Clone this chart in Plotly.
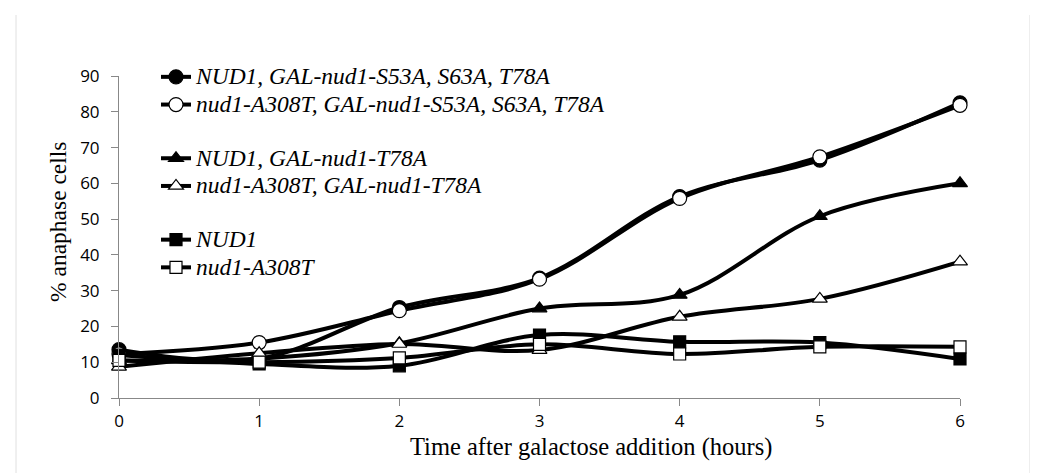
import plotly.graph_objects as go

hours = [0, 1, 2, 3, 4, 5, 6]

names = [
    "NUD1, GAL-nud1-S53A, S63A, T78A",
    "nud1-A308T, GAL-nud1-S53A, S63A, T78A",
    "NUD1, GAL-nud1-T78A",
    "nud1-A308T, GAL-nud1-T78A",
    "NUD1",
    "nud1-A308T",
]

nud1_s53a_s63a_t78a = [13.5, 11, 25.3, 33.5, 56.3, 66.5, 82.5]
a308t_s53a_s63a_t78a = [12.3, 15.5, 24.4, 33.2, 55.8, 67.4, 81.8]
nud1_t78a = [10.5, 11, 15.3, 25, 28.8, 50.8, 60]
a308t_t78a = [8.7, 12.5, 15.1, 13.4, 22.7, 27.7, 38.1]
nud1 = [12, 9.5, 9, 17.6, 15.7, 15.5, 10.9]
a308t = [10.5, 10, 11.2, 15, 12.3, 14.3, 14.3]

x_title = "Time after galactose addition (hours)"
y_title = "% anaphase cells"

series = [nud1_s53a_s63a_t78a, a308t_s53a_s63a_t78a, nud1_t78a, a308t_t78a, nud1, a308t]
symbols = ["circle", "circle", "triangle-up", "triangle-up", "square", "square"]
fills = ["black", "white", "black", "white", "black", "white"]
sizes = [14, 14, 13, 13, 12, 12]
groups = ["g1", "g1", "g2", "g2", "g3", "g3"]

fig = go.Figure()
for nm, ys, sym, fc, sz, gp in zip(names, series, symbols, fills, sizes, groups):
    fig.add_trace(go.Scatter(
        x=hours, y=ys,
        name='<span style="font-size:23.5px"><i>' + nm + "</i></span>",
        mode="lines+markers",
        legendgroup=gp,
        line=dict(color="black", width=4, shape="spline", smoothing=1),
        marker=dict(symbol=sym, size=sz, color=fc, line=dict(color="black", width=1.2)),
        cliponaxis=False,
    ))

# target rendered pixel positions of the plot area (page has an 8px body margin)
OFF = 8
L, R, T, B = 119, 960, 76, 398
W, H = 1038, 473

def px(x):
    return (x - L) / (R - L)

def py(y):
    return (B - y) / (B - T)

axis_common = dict(
    ticks="outside", ticklen=7, tickcolor="#888", tickwidth=1,
    showline=True, linecolor="#888", linewidth=1, showgrid=False, zeroline=False,
    tickfont=dict(family="Open Sans", size=17, color="black"),
)

fig.update_layout(
    width=W, height=H,
    margin=dict(l=L - OFF, r=W - R + OFF, t=T - OFF, b=H - B + OFF),
    paper_bgcolor="white", plot_bgcolor="white",
    showlegend=True,
    legend=dict(
        x=px(156), y=py(58), xanchor="left", yanchor="top",
        font=dict(family="Liberation Serif", size=19, color="black"),
        bgcolor="rgba(0,0,0,0)", tracegroupgap=26,
        itemsizing="trace", maxheight=400,
    ),
    xaxis=dict(range=[0, 6], tickvals=hours, ticklabelstandoff=1, **axis_common),
    yaxis=dict(range=[0, 90], dtick=10, ticklabelstandoff=8, **axis_common),
    annotations=[
        dict(text=x_title, xref="paper", yref="paper", x=px(591), y=py(447),
             xanchor="center", yanchor="middle", showarrow=False,
             font=dict(family="Liberation Serif", size=24.5, color="black")),
        dict(text=y_title, xref="paper", yref="paper", x=px(58), y=py(222),
             xanchor="center", yanchor="middle", showarrow=False, textangle=-90,
             font=dict(family="Liberation Serif", size=23.5, color="black")),
    ],
    shapes=[
        dict(type="line", xref="paper", yref="paper", x0=px(16), x1=px(16), y0=py(15), y1=py(480),
             line=dict(color="#e0e0e0", width=1), layer="below"),
        dict(type="rect", xref="paper", yref="paper", x0=px(1030), x1=px(1045), y0=py(15), y1=py(480),
             fillcolor="#f2f2f2", line=dict(color="#dddddd", width=1), layer="below"),
    ],
)

fig.write_html("out.html")
